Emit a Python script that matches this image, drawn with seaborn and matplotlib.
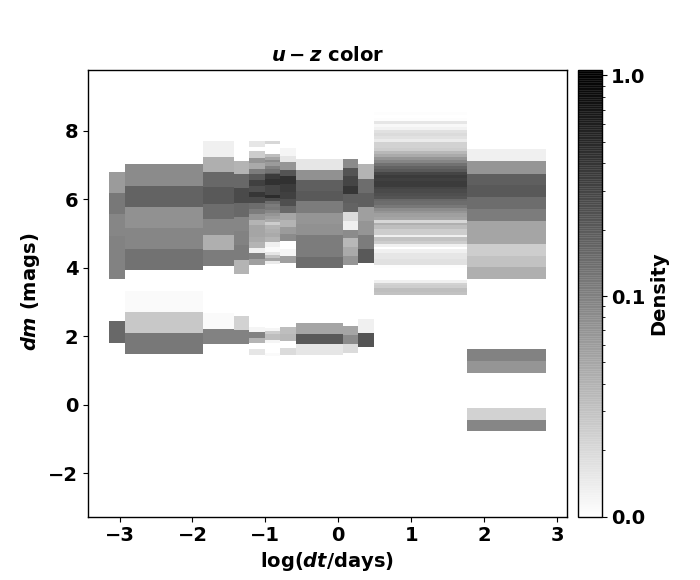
import numpy as np
import matplotlib
matplotlib.use("Agg")
import matplotlib.pyplot as plt
from matplotlib.colors import LogNorm
import seaborn as sns

nan = np.nan

x_bin_edges = [-3.15, -2.93, -1.86, -1.43, -1.22, -1.00, -0.80, -0.58, 0.07, 0.275, 0.495, 1.77, 2.85]

dm_edges_1 = [6.81, 6.20, 5.56, 4.94, 4.33, 3.68, 2.46, 1.81]
density_1 = [.0764, .1558, .1148, .1271, .1271, nan, .2113]

dm_edges_2 = [7.02, 6.40, 5.79, 5.18, 4.56, 3.95, 3.33, 2.72, 2.11, 1.49]
density_2 = [.1037, .2339, .0937, .1148, .1725, nan, .0111, .0306, .1558]

dm_edges_3 = [7.72, 7.25, 6.81, 6.35, 5.88, 5.44, 4.97, 4.53, 4.06, 2.69, 2.22, 1.78]
density_3 = [.0136, .0509, .2113, .2868, .1909, .1148, .0509, .1407, nan, .0111, .1271]

dm_edges_4 = [7.13, 6.73, 6.32, 5.91, 5.50, 5.09, 4.68, 4.24, 3.83, 2.60, 2.19, 1.78]
density_4 = [.0460, .2113, .3890, .2113, .1148, .1271, .1407, .0460, nan, .0250, .1271]

dm_edges_5 = [7.72, 7.54, 7.40, 7.22, 7.05, 6.90, 6.73, 6.58, 6.40, 6.23, 6.08, 5.91, 5.73, 5.58, 5.41,
              5.26, 5.09, 4.91, 4.77, 4.59, 4.44, 4.27, 4.09, 2.28, 2.13, 1.96, 1.81, 1.64, 1.46]
density_5 = [.0166, nan, .0276, .0846, .0563, .1407, .2868, .4768, .3514, .5843, .3890, .1909, .1407,
             .0846, .0460, .0624, .0624, .0563, .0460, .0136, .1271, .0690, nan, .0123, .1271, .0460, nan, .0166]

dm_edges_6 = [7.72, 7.63, 7.34, 7.25, 7.16, 7.08, 6.99, 6.90, 6.78, 6.73, 6.61, 6.43, 6.14, 6.05, 5.96,
              5.88, 5.79, 5.70, 5.61, 5.53, 5.44, 5.35, 5.26, 5.15, 5.03, 4.91, 4.77, 4.62, 4.47, 4.39,
              4.30, 4.21, 4.12, 2.25, 2.16, 2.08, 1.90, 1.81, 1.52, 1.43]
density_6 = [.0226, nan, .0375, .0624, .1037, .0764, .1271, .1725, .2590, .5278, .6468, .4307, .7161,
             .3890, .1909, .1407, .1558, .1148, .0846, .0690, .0563, .0276, .0460, .0509, .0563, .0460,
             .0136, .0111, .0166, .0339, .0624, .0150, nan, .0123, .0276, .0375, .0123, nan, .0111]

dm_edges_7 = [7.49, 7.28, 7.08, 6.87, 6.67, 6.46, 6.23, 6.02, 5.82, 5.61, 5.41, 5.20, 5.00, 4.80, 4.56,
              4.36, 4.15, 2.28, 2.08, 1.87, 1.67, 1.46]
density_7 = [.0123, .0166, .0846, .3175, .6468, .5278, .4768, .3514, .2113, .0624, .0460, .0764, .1037,
             nan, .0123, .0690, nan, .0375, .0415, nan, .0204]

dm_edges_8 = [7.19, 6.87, 6.58, 6.26, 5.94, 5.61, 5.29, 4.97, 4.65, 4.33, 4.00, 2.40, 2.08, 1.78, 1.46]
density_8 = [.0166, .0937, .2590, .2868, .1407, .0846, .0937, .1407, .1407, .1909, nan, .0624, .2868, .0166]

dm_edges_9 = [7.19, 6.93, 6.67, 6.40, 6.17, 5.91, 5.64, 5.38, 5.12, 4.88, 4.62, 4.36, 4.09, 2.31, 2.05, 1.78, 1.52]
density_9 = [.1037, .3175, .4307, .5843, .2590, .2339, .0204, .0136, .1037, .0415, .0563, .0846, nan,
             .0624, .1037, .0204]

dm_edges_10 = [7.02, 6.61, 6.20, 5.79, 5.38, 4.97, 4.56, 4.15, 2.52, 2.10, 1.70]
density_10 = [.0460, .1909, .2590, .0690, .0846, .1407, .2868, nan, .0136, .3175]

dm_edges_11 = [8.56, 8.47, 8.39, 8.30, 8.21, 8.12, 8.04, 7.95, 7.86, 7.77,
               7.69, 7.60, 7.51, 7.42, 7.34, 7.25, 7.16, 7.07, 6.99, 6.90,
               6.81, 6.72, 6.64, 6.55, 6.46, 6.37, 6.29, 6.20, 6.11, 6.02,
               5.94, 5.85, 5.76, 5.67, 5.59, 5.50, 5.41, 5.32, 5.24, 5.15,
               5.06, 4.97, 4.89, 4.80, 4.71, 4.62, 4.54, 4.45, 4.36, 4.27,
               4.19, 4.10, 4.01, 3.92, 3.84, 3.75, 3.66, 3.57, 3.49, 3.40,
               3.31, 3.22]
density_11 = [.0104, .0100, .0104, .0166, .0115, .0130, .0184, .0204, .0184, .0150,
              .0250, .0250, .0276, .0415, .0563, .0846, .1148, .1725, .2339, .2868,
              .4307, .5278, .4768, .5278, .5278, .4307, .3890, .3514, .3175, .2113,
              .1909, .1558, .1037, .0846, .0690, .0624, .0226, .0509, .0375, .0276,
              .0276, .0136, .0339, .0276, .0136, .0100, .0136, .0166, .0166, .0184,
              .0184, .0104, nan, nan, nan, nan, .0136, .0250, .0276, .0375,
              .0339]

dm_edges_12 = [7.46, 7.11, 6.75, 6.43, 6.08, 5.73, 5.38, 5.03, 4.71, 4.36, 4.03, 3.68,
               1.64, 1.29, 0.94, -0.09, -0.44, -0.76]
density_12 = [.0136, .0846, .2590, .2868, .1909, .1407, .0624, .0624, .0276, .0339, .0509, nan,
              .1271, .0846, nan, .0250, .1148]

dm_edges = [dm_edges_1, dm_edges_2, dm_edges_3, dm_edges_4, dm_edges_5, dm_edges_6,
            dm_edges_7, dm_edges_8, dm_edges_9, dm_edges_10, dm_edges_11, dm_edges_12]
densities = [density_1, density_2, density_3, density_4, density_5, density_6,
             density_7, density_8, density_9, density_10, density_11, density_12]

x_ticks = [-3, -2, -1, 0, 1, 2, 3]
y_ticks = [-2, 0, 2, 4, 6, 8]
cbar_ticks = [0.01, 0.1, 1.0]

sns.set_theme(style="ticks", rc={
    "font.family": ["DejaVu Sans"],
    "font.weight": "bold",
    "axes.labelweight": "bold",
    "axes.titleweight": "bold",
    "axes.labelsize": 14,
    "axes.titlesize": 14,
    "xtick.labelsize": 14,
    "ytick.labelsize": 14,
    "text.color": "black",
    "axes.labelcolor": "black",
    "axes.edgecolor": "black",
    "xtick.color": "black",
    "ytick.color": "black",
    "axes.linewidth": 1.0,
    "xtick.major.size": 3.5,
    "ytick.major.size": 3.5,
    "ytick.minor.size": 2,
    "xtick.major.width": 0.8,
    "ytick.major.width": 0.8,
    "ytick.minor.width": 0.6,
    "mathtext.fontset": "dejavusans",
})

cmap = sns.color_palette("gray_r", as_cmap=True)
norm = LogNorm(vmin=0.01, vmax=1.055)

fig = plt.figure(figsize=(7, 5.8), dpi=100)
ax = fig.add_axes([88 / 700, (580 - 516.7) / 580, 479 / 700, 446.4 / 580])
cax = fig.add_axes([578 / 700, (580 - 516.7) / 580, 24 / 700, 446.4 / 580])

mesh = None
for i, (edges, dens) in enumerate(zip(dm_edges, densities)):
    C = np.ma.masked_invalid(np.array(dens)[:, None])
    mesh = ax.pcolormesh(x_bin_edges[i:i + 2], edges, C, cmap=cmap, norm=norm, alpha=0.9,
                         edgecolors="none", linewidth=0)

ax.set_xlim(-3.433, 3.137)
ax.set_ylim(-3.263, 9.77)
ax.set_xticks(x_ticks)
ax.set_yticks(y_ticks)
ax.set_xlabel(r"log($\boldsymbol{dt}$/days)", labelpad=3)
ax.set_ylabel(r"$\boldsymbol{dm}$ (mags)", labelpad=4)
ax.yaxis.set_label_coords(-0.095, 0.503)
ax.set_title(r"$\boldsymbol{u-z}$ color", pad=7)

cb = fig.colorbar(mesh, cax=cax, ticks=cbar_ticks, format="%.1f")
cb.set_label("Density", labelpad=3)
cb.ax.tick_params(axis="y", which="major", pad=3)
cb.solids.set_antialiased(True)
cb.solids.set_rasterized(False)
cb.solids.set_edgecolor("face")
cb.solids.set_linewidth(0.4)

fig.savefig("out.png", dpi=100)
